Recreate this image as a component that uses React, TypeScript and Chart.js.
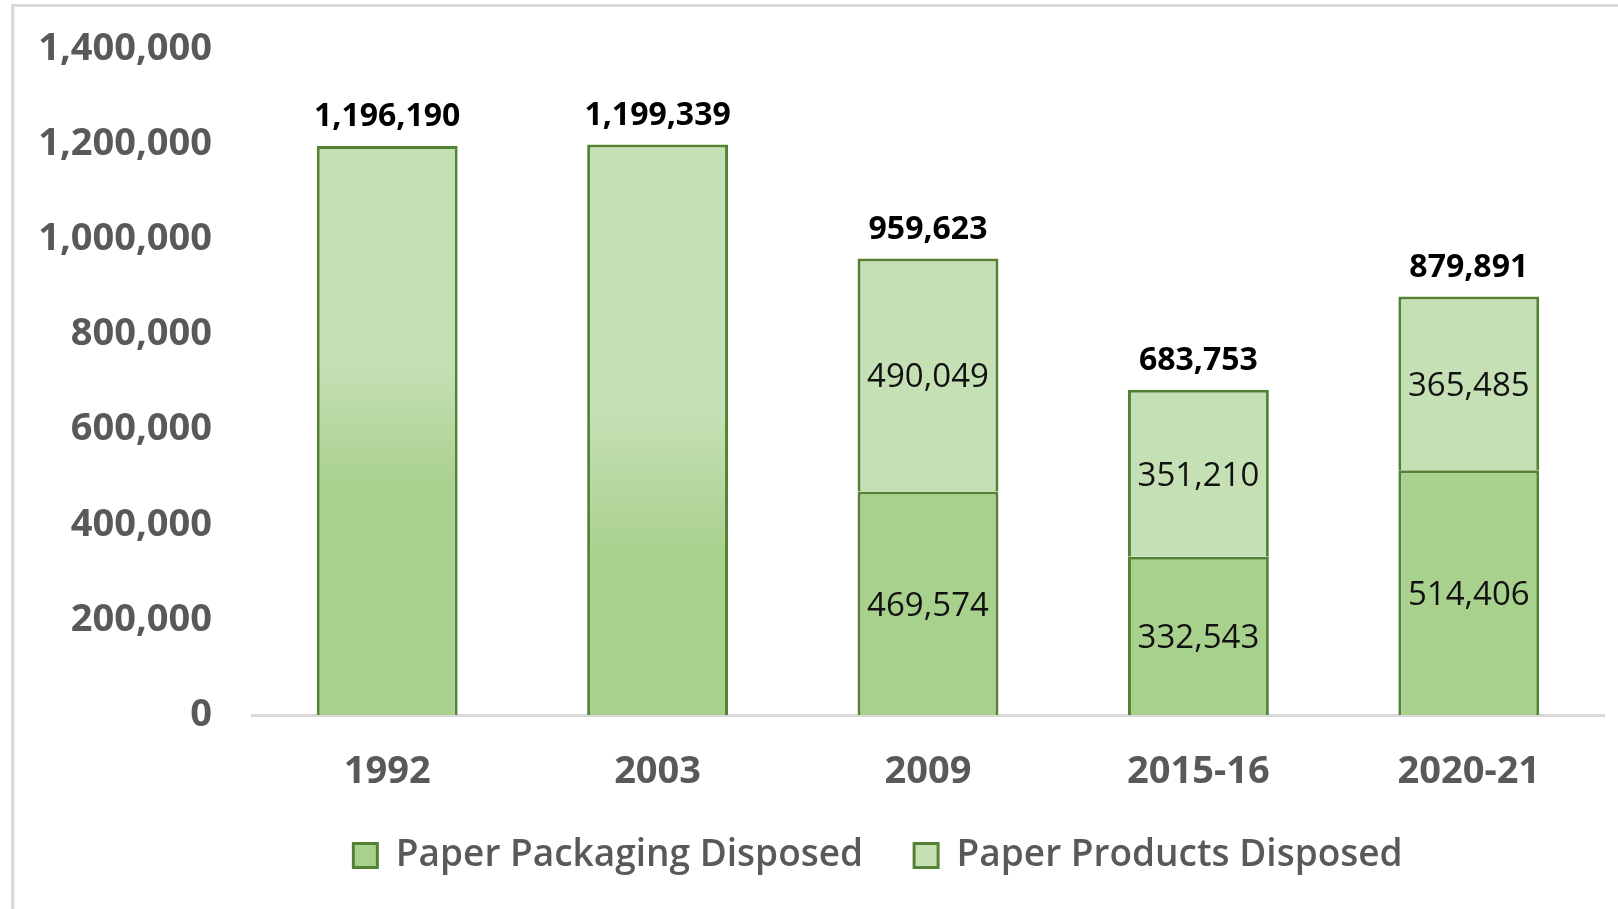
import React, { useEffect, useRef } from "react";
import { Chart, registerables } from "chart.js";

Chart.register(...registerables);

// ---------- data ----------
const categories = ["1992", "2003", "2009", "2015-16", "2020-21"];
const packagingDisposed = [null, null, 469574, 332543, 514406];
const productsDisposed = [null, null, 490049, 351210, 365485];
// years reported only as a combined total (no breakdown)
const combinedDisposed = [1196190, 1199339, null, null, null];
const totalDisposed = [1196190, 1199339, 959623, 683753, 879891];
const yMin = 0;
const yMax = 1400000;
const yStep = 200000;

// ---------- style ----------
const DARK = "#A9D18E";
const LIGHT = "#C5E0B4";
const EDGE = "#548235";
const GRAY = "#595959";
const LINE = "#D9D9D9";
const FONT = "'Open Sans', 'Noto Sans', sans-serif";
// gradient stops (fraction of bar height from bottom): [dark ends, light starts]
const gradientStops: Record<number, [number, number]> = { 0: [0.405, 0.613], 1: [0.285, 0.53] };
const LEGEND_LEFT = 152;

const fmt = (v: number) => v.toLocaleString("en-US");

const framePlugin = {
  id: "frame",
  afterLayout(chart: any) {
    const lg = chart.legend;
    if (lg) {
      lg.left = LEGEND_LEFT;
      lg.width = lg.right - lg.left;
    }
  },
  beforeDraw(chart: any) {
    const ctx = chart.ctx;
    ctx.save();
    ctx.fillStyle = "#ffffff";
    ctx.fillRect(0, 0, chart.width, chart.height);
    ctx.fillStyle = LINE;
    ctx.fillRect(11, 4, 3.5, chart.height - 4);
    ctx.fillRect(11, 4, chart.width - 11, 3);
    ctx.restore();
  },
};

const labelPlugin = {
  id: "valueLabels",
  afterDatasetsDraw(chart: any) {
    const ctx = chart.ctx;
    const xs = chart.scales.x;
    const ys = chart.scales.y;
    ctx.save();
    ctx.textAlign = "center";
    ctx.textBaseline = "middle";
    // segment labels
    ctx.font = `400 33px ${FONT}`;
    ctx.fillStyle = "#111111";
    [0, 1].forEach((di) => {
      const meta = chart.getDatasetMeta(di);
      const data = chart.data.datasets[di].data;
      meta.data.forEach((el: any, i: number) => {
        const v = data[i];
        if (v == null) return;
        ctx.fillText(fmt(v), el.x, (el.y + el.base) / 2 + 3);
      });
    });
    // totals
    ctx.font = `700 32px ${FONT}`;
    ctx.fillStyle = "#000000";
    totalDisposed.forEach((v, i) => {
      const x = xs.getPixelForValue(i);
      const y = ys.getPixelForValue(v);
      ctx.fillText(fmt(v), x, y - 29);
    });
    ctx.restore();
  },
};

export default function App() {
  const ref = useRef<HTMLCanvasElement | null>(null);

  useEffect(() => {
    if (!ref.current) return;
    const chart = new Chart(ref.current, {
      type: "bar",
      data: {
        labels: categories,
        datasets: [
          {
            label: "Paper Packaging Disposed",
            data: packagingDisposed,
            backgroundColor: DARK,
            borderColor: EDGE,
            borderWidth: 3,
            stack: "s",
          },
          {
            label: "Paper Products Disposed",
            data: productsDisposed,
            backgroundColor: LIGHT,
            borderColor: EDGE,
            borderWidth: 3,
            stack: "s",
          },
          {
            label: "Total Paper Disposed",
            data: combinedDisposed,
            backgroundColor: (c: any) => {
              const chart = c.chart;
              const i = c.dataIndex;
              const ys = chart.scales?.y;
              const v = combinedDisposed[i];
              if (!ys || v == null || c.type !== "data") return DARK;
              const y0 = ys.getPixelForValue(0);
              const y1 = ys.getPixelForValue(v);
              if (!isFinite(y0) || !isFinite(y1) || y0 === y1) return DARK;
              const g = chart.ctx.createLinearGradient(0, y0, 0, y1);
              const [a, b] = gradientStops[i] || [0.4, 0.6];
              g.addColorStop(0, DARK);
              g.addColorStop(a, DARK);
              g.addColorStop(b, LIGHT);
              g.addColorStop(1, LIGHT);
              return g;
            },
            borderColor: EDGE,
            borderWidth: 3,
            stack: "s",
          },
        ],
      },
      options: {
        responsive: false,
        animation: false,
        devicePixelRatio: 1,
        datasets: { bar: { barPercentage: 0.521, categoryPercentage: 1 } },
        layout: { padding: { top: 49, left: 20, right: 14, bottom: 25 } },
        scales: {
          x: {
            stacked: true,
            grid: { display: false, drawTicks: false },
            border: { display: true, color: LINE, width: 3 },
            ticks: {
              color: GRAY,
              font: { family: FONT, size: 38, weight: "700" },
              padding: 34,
            },
            afterFit: (s: any) => {
              s.height = 71;
            },
          },
          y: {
            stacked: true,
            min: yMin,
            max: yMax,
            grid: { display: false, drawTicks: false },
            border: { display: false },
            ticks: {
              stepSize: yStep,
              color: GRAY,
              font: { family: FONT, size: 38, weight: "700" },
              padding: 40,
              callback: (v: any) => fmt(Number(v)),
            },
            afterFit: (s: any) => {
              s.width = 232;
              s.paddingTop = 0;
              s.paddingBottom = 0;
            },
          },
        },
        plugins: {
          legend: {
            position: "bottom",
            labels: {
              color: GRAY,
              font: { family: FONT, size: 37, weight: "600" },
              boxWidth: 24,
              boxHeight: 24,
              padding: 51,
              filter: (item: any) => item.datasetIndex !== 2,
            },
          },
          tooltip: { enabled: false },
        },
      },
      plugins: [framePlugin, labelPlugin],
    });
    return () => chart.destroy();
  }, []);

  return (
    <div style={{ position: "absolute", left: 0, top: 0, width: 1618, height: 909 }}>
      <canvas ref={ref} width={1618} height={909} style={{ display: "block" }} />
    </div>
  );
}
